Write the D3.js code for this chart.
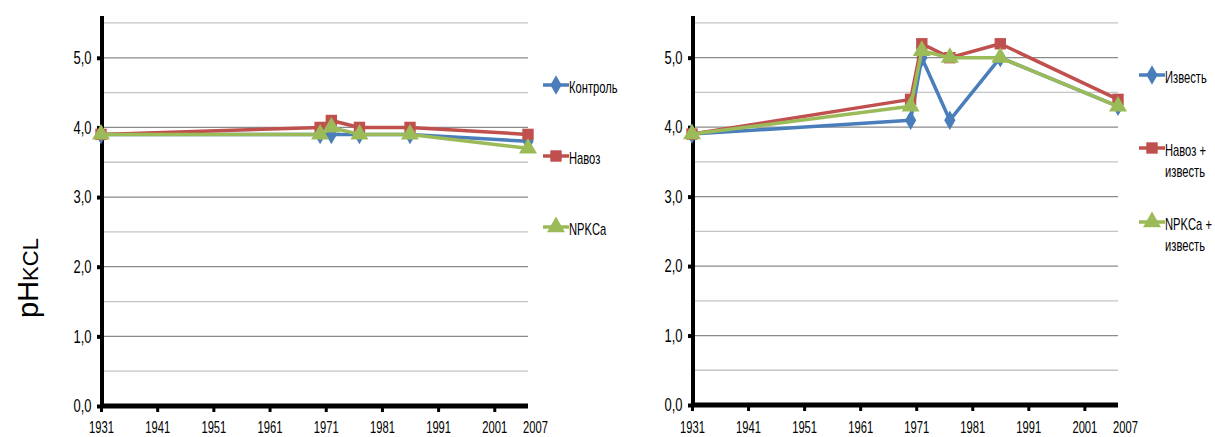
<!DOCTYPE html>
<html>
<head>
<meta charset="utf-8">
<script src="https://cdn.jsdelivr.net/npm/d3@7"></script>
<style>
  body { margin: 0; background: #fff; }
  svg { display: block; }
  text { font-family: "Liberation Sans", Arial, sans-serif; fill: #000; }
  /* narrow look of the original labels */
  .ny { transform: scaleX(0.72); transform-box: fill-box; transform-origin: center; }
  .nx { transform: scaleX(0.7); transform-box: fill-box; transform-origin: center; }
  .nxl { transform: scaleX(0.7); transform-box: fill-box; transform-origin: left center; }
  .nleg { transform: scaleX(0.7); transform-box: fill-box; transform-origin: left center; }
</style>
</head>
<body>
<svg id="chart" width="1215" height="437"></svg>
<script>
// sampling years (same for both panels)
const years = [1931, 1970, 1972, 1977, 1986, 2007];
const tickYears = [1931, 1941, 1951, 1961, 1971, 1981, 1991, 2001];
const lastYear = 2007;
const yTicks = [0, 1, 2, 3, 4, 5];
const gridSteps = [0.5, 1, 1.5, 2, 2.5, 3, 3.5, 4, 4.5, 5, 5.5];

// left panel
const leftNames = ['Контроль', 'Навоз', 'NPKCa'];
const kontrol = [3.9, 3.9, 3.9, 3.9, 3.9, 3.8];
const navoz = [3.9, 4.0, 4.1, 4.0, 4.0, 3.9];
const npkca = [3.9, 3.9, 4.0, 3.9, 3.9, 3.7];

// right panel
const rightNames = [['Известь'], ['Навоз +', 'известь'], ['NPKCa +', 'известь']];
const izvest = [3.9, 4.1, 5.0, 4.1, 5.0, 4.3];
const navozIzvest = [3.9, 4.4, 5.2, 5.0, 5.2, 4.4];
const npkcaIzvest = [3.9, 4.3, 5.1, 5.0, 5.0, 4.3];

const colors = ['#4a7ebb', '#c0504d', '#9bbb59'];
const shapes = [d3.symbolDiamond, d3.symbolSquare, d3.symbolTriangle];
const symSize = [110, 130, 140];

let svg = d3.select('#chart');

function drawPanel(p) {
  let x = d3.scaleLinear().domain([1931, lastYear]).range([p.left, p.right]);
  let y = d3.scaleLinear().domain([0, 5.6]).range([p.bottom, p.top]);
  let g = svg.append('g');

  // grid lines
  g.selectAll('line.grid')
    .data(gridSteps)
    .enter()
    .append('line')
    .attr('x1', p.left).attr('x2', p.right)
    .attr('y1', d => y(d)).attr('y2', d => y(d))
    .attr('stroke', d => Number.isInteger(d) ? '#8a8a8a' : '#c4c4c4')
    .attr('stroke-width', 1.3);

  // y axis
  let yAxis = d3.axisLeft(y).tickValues(yTicks).tickSize(4).tickPadding(2)
    .tickFormat(d => d3.format('.1f')(d).replace('.', ','));
  let ya = g.append('g').attr('transform', 'translate(' + p.left + ',0)').call(yAxis);
  ya.select('.domain').remove();
  ya.selectAll('.tick line').attr('stroke', '#000').attr('stroke-width', 4);
  ya.selectAll('.tick text').attr('class', 'ny').style('font-size', '18px');
  g.append('line')
    .attr('x1', p.left + 1).attr('x2', p.left + 1)
    .attr('y1', p.top).attr('y2', p.bottom)
    .attr('stroke', '#000').attr('stroke-width', 4);

  // x axis
  let xAxis = d3.axisBottom(x).tickValues(tickYears).tickSize(6).tickPadding(0)
    .tickFormat(d3.format('d'));
  let xa = g.append('g').attr('transform', 'translate(0,' + p.bottom + ')').call(xAxis);
  xa.select('.domain').remove();
  xa.selectAll('.tick line').attr('stroke', '#000').attr('stroke-width', 3);
  xa.selectAll('.tick text')
    .attr('class', 'nx')
    .attr('dy', null)
    .attr('y', 433 - p.bottom)
    .style('font-size', '16px');
  g.append('text')
    .attr('class', 'nxl')
    .attr('x', x(lastYear) - 5).attr('y', 433)
    .style('font-size', '16px')
    .text(lastYear);
  g.append('line')
    .attr('x1', p.left).attr('x2', p.right)
    .attr('y1', p.bottom).attr('y2', p.bottom)
    .attr('stroke', '#000').attr('stroke-width', 5);

  // series
  let line = d3.line().x((d, i) => x(years[i])).y(d => y(d));
  p.series.forEach(function (vals, s) {
    g.append('path')
      .datum(vals)
      .attr('d', line)
      .attr('fill', 'none')
      .attr('stroke', colors[s])
      .attr('stroke-width', 3.5)
      .attr('stroke-linejoin', 'round');
    g.selectAll('path.m' + s)
      .data(vals)
      .enter()
      .append('path')
      .attr('class', 'm' + s)
      .attr('d', d3.symbol().type(shapes[s]).size(symSize[s]))
      .attr('transform', (d, i) => 'translate(' + x(years[i]) + ',' + y(d) + ')')
      .attr('fill', colors[s]);
  });

  // legend
  p.names.forEach(function (lines, s) {
    let ly = p.legendY[s];
    g.append('line')
      .attr('x1', p.legendX).attr('x2', p.legendX + 26)
      .attr('y1', ly).attr('y2', ly)
      .attr('stroke', colors[s]).attr('stroke-width', 3.5);
    g.append('path')
      .attr('d', d3.symbol().type(shapes[s]).size(symSize[s]))
      .attr('transform', 'translate(' + (p.legendX + 13) + ',' + ly + ')')
      .attr('fill', colors[s]);
    [].concat(lines).forEach(function (t, k) {
      g.append('text')
        .attr('class', 'nleg')
        .attr('x', p.legendX + 26).attr('y', ly + 8 + k * 21)
        .style('font-size', '16px')
        .text(t);
    });
  });
}

drawPanel({
  left: 101, right: 528, top: 16, bottom: 406,
  series: [kontrol, navoz, npkca],
  names: leftNames,
  legendX: 543, legendY: [85, 156, 227]
});

drawPanel({
  left: 692, right: 1118, top: 16, bottom: 405,
  series: [izvest, navozIzvest, npkcaIzvest],
  names: rightNames,
  legendX: 1139, legendY: [75, 148, 222]
});

// y axis title
let title = svg.append('text')
  .attr('transform', 'translate(38,318) rotate(-90)');
title.append('tspan').style('font-size', '29px').text('pH');
title.append('tspan').style('font-size', '22px').text('KCL');
</script>
</body>
</html>
